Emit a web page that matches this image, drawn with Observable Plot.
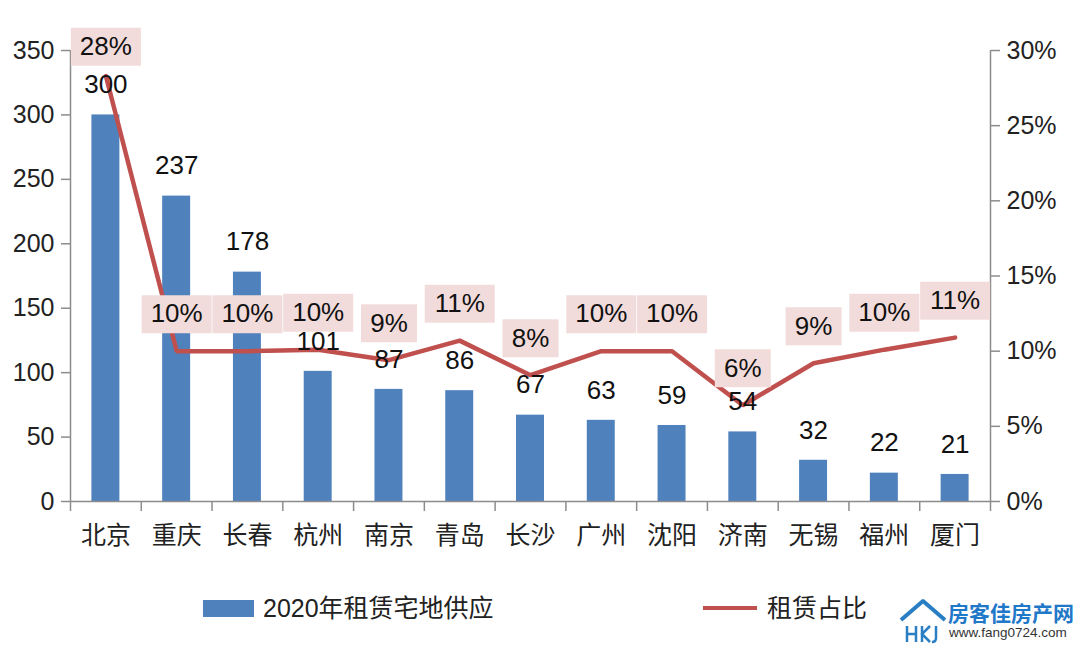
<!DOCTYPE html>
<html>
<head>
<meta charset="utf-8">
<script src="https://cdn.jsdelivr.net/npm/d3@7"></script>
<script src="https://cdn.jsdelivr.net/npm/@observablehq/plot@0.6"></script>
<style>
  html, body { margin: 0; padding: 0; background: #fff; }
  #wrap { position: relative; width: 1080px; height: 647px; overflow: hidden; }
  #legend { position: absolute; left: 0; top: 560px; width: 1080px; height: 87px;
    font-family: "Liberation Sans", "Noto Sans CJK SC", sans-serif; font-size: 25px; color: #222; }
  .abs { position: absolute; white-space: nowrap; }
</style>
</head>
<body>
<div id="wrap">
  <div id="chart"></div>
  <div id="legend">
    <div class="abs" style="left:203px;top:40px;width:51px;height:17px;background:#4f81bd;"></div>
    <div class="abs" style="left:263px;top:33px;line-height:30px;">2020年租赁宅地供应</div>
    <div class="abs" style="left:703px;top:46px;width:54px;height:4px;background:#c0504d;"></div>
    <div class="abs" style="left:767px;top:33px;line-height:30px;">租赁占比</div>
    <svg class="abs" style="left:898px;top:38px;" width="50" height="46" viewBox="0 0 50 46">
      <polyline points="3,22 25,3 47,22" fill="none" stroke="#2a7fc4" stroke-width="4" stroke-linejoin="round"/>
      <path d="M9,28 V44 M9,36 H18 M18,28 V44 M24,28 V44 M32,28 L24,36 L32,44 M38,28 V40 Q38,44 34,44" fill="none" stroke="#2a7fc4" stroke-width="2.5"/>
    </svg>
    <div class="abs" style="left:948px;top:39px;font-size:21px;font-weight:bold;color:#1f78c8;font-family:'Noto Sans CJK SC',sans-serif;line-height:26px;">房客佳房产网</div>
    <div class="abs" style="left:949px;top:64px;font-size:13.5px;color:#333;line-height:18px;font-family:'Liberation Sans',sans-serif;">www.fang0724.com</div>
  </div>
</div>
<script>
const cities = ["北京","重庆","长春","杭州","南京","青岛","长沙","广州","沈阳","济南","无锡","福州","厦门"];
const supply = [300,237,178,101,87,86,67,63,59,54,32,22,21];
const sharePct = [28.3,10.0,10.0,10.1,9.4,10.7,8.4,10.0,10.0,6.4,9.2,10.1,10.9];
const shareLabels = ["28%","10%","10%","10%","9%","11%","8%","10%","10%","6%","9%","10%","11%"];
const leftTicks = [0,50,100,150,200,250,300,350];
const rightTicks = [0,5,10,15,20,25,30];

const leftMax = 350, rightMax = 30;
const toLeft = p => p * leftMax / rightMax;
const pxPerUnit = (501 - 50) / leftMax;
const labelOffset = 37 / pxPerUnit;   // label box sits 37px above its point
const labelCap = 353;                 // keep boxes inside the chart area

const data = cities.map((c, i) => {
  const share = toLeft(sharePct[i]);
  return { city: c, supply: supply[i], share, labelY: Math.min(share + labelOffset, labelCap), label: shareLabels[i] };
});

const half = 920 / cities.length / 2;
const rectSymbol = w => ({ draw(ctx) { ctx.rect(-w / 2, -19, w, 38); } });
const grey = "#8c8c8c";

const chart = Plot.plot({
  width: 1080,
  height: 560,
  marginLeft: 70,
  marginRight: 90,
  marginTop: 50,
  marginBottom: 59,
  style: { fontFamily: "'Liberation Sans', 'Noto Sans CJK SC', sans-serif", fontSize: "25px", color: "#222", background: "#fff" },
  x: { domain: cities, padding: 0, round: false },
  y: { domain: [0, leftMax] },
  marks: [
    Plot.barY(data, { x: "city", y: "supply", fill: "#4f81bd", insetLeft: 21.4, insetRight: 21.4 }),
    Plot.ruleY([0], { stroke: grey, strokeWidth: 1.5 }),
    Plot.ruleX([cities[0]], { y1: 0, y2: leftMax, dx: -half, stroke: grey, strokeWidth: 1.5 }),
    Plot.ruleX([cities[cities.length - 1]], { y1: 0, y2: leftMax, dx: half, stroke: grey, strokeWidth: 1.5 }),
    Plot.ruleX(cities, { x: d => d, y1: 0, y2: -7.8, dx: -half, stroke: grey, strokeWidth: 1.5 }),
    Plot.ruleX([cities[cities.length - 1]], { y1: 0, y2: -7.8, dx: half, stroke: grey, strokeWidth: 1.5 }),
    Plot.axisY({ ticks: leftTicks, tickSize: 9, tickPadding: 7, stroke: grey, strokeWidth: 1.5, fill: "#222", fontSize: 25, label: null }),
    Plot.axisY({ anchor: "right", ticks: rightTicks.map(toLeft), tickFormat: d => Math.round(d * rightMax / leftMax) + "%", tickSize: 9, tickPadding: 7, stroke: grey, strokeWidth: 1.5, fill: "#222", fontSize: 25, label: null }),
    Plot.axisX({ tickSize: 0, tickPadding: 25, fontSize: 25, fill: "#222", fontFamily: "'Noto Sans CJK SC', sans-serif", label: null }),
    Plot.line(data, { x: "city", y: "share", stroke: "#c0504d", strokeWidth: 4.5, strokeLinejoin: "miter" }),
    Plot.text(data, { x: "city", y: "supply", text: d => String(d.supply), dy: -30, fontSize: 26, fill: "#111" }),
    Plot.dot(data.filter(d => d.label.length === 3), { x: "city", y: "labelY", symbol: rectSymbol(70), fill: "#f2dcdb", stroke: "none", r: 10 }),
    Plot.dot(data.filter(d => d.label.length === 2), { x: "city", y: "labelY", symbol: rectSymbol(56), fill: "#f2dcdb", stroke: "none", r: 10 }),
    Plot.text(data, { x: "city", y: "labelY", text: "label", fontSize: 26, fill: "#111" })
  ]
});
document.getElementById("chart").appendChild(chart);
</script>
</body>
</html>
